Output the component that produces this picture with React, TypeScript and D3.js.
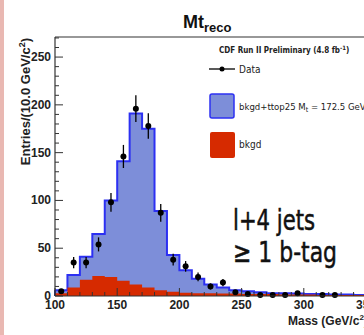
import * as d3 from "d3";
import React from "react";

// bin lower edges (GeV/c^2), 10 GeV wide
const binStarts = [
  100, 110, 120, 130, 140, 150, 160, 170, 180, 190, 200, 210, 220, 230, 240,
  250, 260, 270, 280, 290, 300, 310, 320, 330, 340,
];
// bkgd + ttop25 (Mt = 172.5) stack
const totalValues = [
  6, 22, 41, 65, 100, 141, 191, 175, 89, 43, 27, 18, 12, 9, 6, 5, 4, 3, 3, 2.5,
  2, 2, 1.5, 1.5, 1,
];
// background only
const bkgdValues = [
  3, 9, 17, 21, 20, 16, 12, 9, 6, 4.5, 3.5, 3, 3, 2.5, 2.5, 2, 2, 2, 1.5, 1.5,
  1.5, 1, 1, 1, 1,
];
// observed data
const dataValues = [
  5, 35, 35, 54, 98, 146, 196, 178, 87, 38, 31, 20, 10, 14, 4, 2, 1, 1, 1, 3, 0,
  1, 1, 0, 0,
];
const xTicks = [100, 150, 200, 250, 300, 350];
const yTicks = [0, 50, 100, 150, 200, 250];
const binWidth = 10;

const W = 364;
const H = 335;
const BLUE_FILL = "#7d8ed9";
const BLUE_LINE = "#2c30f2";
const RED = "#d62a00";
const FONT = "'Liberation Sans', Arial, sans-serif";
const NARROW = "'Liberation Sans Narrow', 'DejaVu Sans Condensed', sans-serif";

export default function App() {
  const x = d3.scaleLinear().domain([100, 350]).range([55, 366]);
  const y = d3.scaleLinear().domain([0, 271]).range([296, 37]);

  const stepPoints = (vals: number[]) => {
    const pts: [number, number][] = binStarts.map((b, i) => [b, vals[i]]);
    const last = binStarts[binStarts.length - 1] + binWidth;
    pts.push([last, vals[vals.length - 1]]);
    return pts;
  };

  const area = d3
    .area<[number, number]>()
    .x((d) => x(d[0]))
    .y0(y(0))
    .y1((d) => y(d[1]))
    .curve(d3.curveStepAfter);
  const line = d3
    .line<[number, number]>()
    .x((d) => x(d[0]))
    .y((d) => y(d[1]))
    .curve(d3.curveStepAfter);

  const totalPts = stepPoints(totalValues);
  const bkgdPts = stepPoints(bkgdValues);

  const yMinor = d3.range(0, 271, 10);
  const xMinor = d3.range(100, 351, 10);

  return (
    <svg
      width={W}
      height={H}
      style={{ position: "fixed", left: 0, top: 0, background: "#fff" }}
    >
      <rect x={0} y={0} width={4} height={H} fill="#e9b8b2" />

      {/* title */}
      <text
        x={183}
        y={28}
        fontFamily={FONT}
        fontWeight="bold"
        fontSize={18}
        fill="#111"
      >
        Mt
        <tspan fontSize={13} dy={4}>
          reco
        </tspan>
      </text>

      {/* histograms */}
      <path d={area(totalPts) ?? ""} fill={BLUE_FILL} />
      <path
        d={
          `M${x(100)},${y(0)}L${x(100)},${y(totalValues[0])}` +
          (line(totalPts) ?? "").replace(/^M/, "L")
        }
        fill="none"
        stroke={BLUE_LINE}
        strokeWidth={2}
      />
      <path d={area(bkgdPts) ?? ""} fill={RED} />

      {/* data points */}
      {dataValues.map((v, i) => {
        if (v <= 0) return null;
        const cx = x(binStarts[i] + binWidth / 2);
        const err = Math.sqrt(v);
        return (
          <g key={i}>
            <line
              x1={cx}
              x2={cx}
              y1={y(v + err)}
              y2={y(Math.max(0, v - err))}
              stroke="#000"
              strokeWidth={1.3}
            />
            <circle cx={cx} cy={y(v)} r={3} fill="#000" />
          </g>
        );
      })}

      {/* frame */}
      <line x1={55} x2={W} y1={37} y2={37} stroke="#333" strokeWidth={1.2} />
      <line x1={55} x2={55} y1={37} y2={296} stroke="#333" strokeWidth={1.2} />
      <line x1={55} x2={W} y1={296} y2={296} stroke="#333" strokeWidth={1.2} />

      {/* y ticks */}
      {yMinor.map((t) => (
        <line
          key={"ym" + t}
          x1={55}
          x2={t % 50 === 0 ? 63 : 59}
          y1={y(t)}
          y2={y(t)}
          stroke="#333"
          strokeWidth={1}
        />
      ))}
      {yTicks.map((t) => (
        <text
          key={"yl" + t}
          x={51}
          y={y(t) + 4}
          textAnchor="end"
          fontFamily={FONT}
          fontWeight="bold"
          fontSize={12}
          fill="#222"
        >
          {t}
        </text>
      ))}

      {/* x ticks */}
      {xMinor.map((t) => (
        <line
          key={"xm" + t}
          x1={x(t)}
          x2={x(t)}
          y1={296}
          y2={t % 50 === 0 ? 288 : 292}
          stroke="#333"
          strokeWidth={1}
        />
      ))}
      {xTicks.map((t) => (
        <text
          key={"xl" + t}
          x={x(t)}
          y={309}
          textAnchor="middle"
          fontFamily={FONT}
          fontWeight="bold"
          fontSize={12}
          fill="#222"
        >
          {t}
        </text>
      ))}

      {/* axis titles */}
      <text
        transform="translate(30,38) rotate(-90)"
        textAnchor="end"
        fontFamily={FONT}
        fontWeight="bold"
        fontSize={13}
        fill="#222"
      >
        Entries/(10.0 GeV/c
        <tspan fontSize={9} dy={-5}>
          2
        </tspan>
        <tspan dy={5}>)</tspan>
      </text>
      <text
        x={288}
        y={325}
        fontFamily={FONT}
        fontWeight="bold"
        fontSize={12}
        fill="#222"
      >
        Mass (GeV/c
        <tspan fontSize={8} dy={-5}>
          2
        </tspan>
        <tspan dy={5}>)</tspan>
      </text>

      {/* legend */}
      <text x={219} y={53} fontFamily={NARROW} fontWeight="bold" fontSize={8} fill="#222">
        CDF Run II Preliminary (4.8 fb
        <tspan fontSize={6} dy={-3}>
          -1
        </tspan>
        <tspan dy={3}>)</tspan>
      </text>
      <line x1={209} x2={235} y1={69} y2={69} stroke="#000" strokeWidth={1.3} />
      <circle cx={222} cy={69} r={2.5} fill="#000" />
      <text x={239} y={73} fontFamily={NARROW} fontSize={10} fill="#222">
        Data
      </text>
      <rect
        x={210}
        y={94}
        width={24}
        height={24}
        rx={2}
        fill={BLUE_FILL}
        stroke={BLUE_LINE}
        strokeWidth={1.5}
      />
      <text x={239} y={110} fontFamily={NARROW} fontSize={9.5} fill="#222">
        bkgd+ttop25 M
        <tspan fontSize={7} dy={2}>
          t
        </tspan>
        <tspan dy={-2}> = 172.5 GeV/c</tspan>
        <tspan fontSize={7} dy={-4}>
          2
        </tspan>
      </text>
      <rect x={210} y={132} width={25} height={26} rx={2} fill={RED} />
      <text x={239} y={148} fontFamily={NARROW} fontSize={10} fill="#222">
        bkgd
      </text>

      {/* selection label */}
      <text
        x={233}
        y={230}
        fontFamily={NARROW}
        fontSize={29}
        fill="#111"
        stroke="#111"
        strokeWidth={0.5}
        textLength={82}
        lengthAdjust="spacingAndGlyphs"
      >
        l+4 jets
      </text>
      <text
        x={233}
        y={262}
        fontFamily={NARROW}
        fontSize={29}
        fill="#111"
        stroke="#111"
        strokeWidth={0.5}
        textLength={104}
        lengthAdjust="spacingAndGlyphs"
      >
        ≥ 1 b-tag
      </text>
    </svg>
  );
}
